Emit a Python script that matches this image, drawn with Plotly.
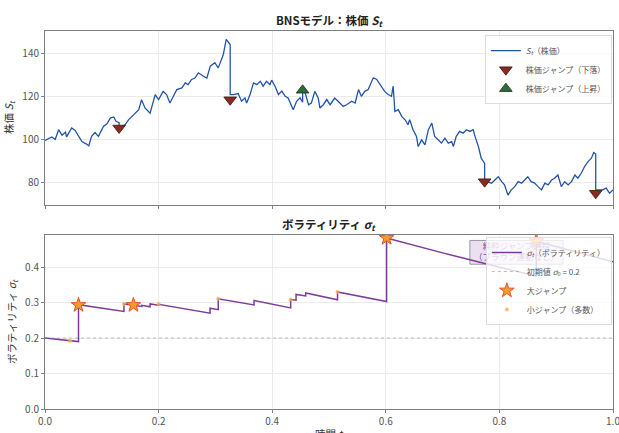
import plotly.graph_objects as go

# ---------------- data ----------------
price_t = [0.000, 0.006, 0.012, 0.018, 0.024, 0.030, 0.036, 0.038, 0.047, 0.053,
           0.059, 0.065, 0.074, 0.077, 0.082, 0.088, 0.094, 0.103, 0.109, 0.115,
           0.121, 0.125, 0.1305, 0.1305, 0.135, 0.141, 0.147, 0.156, 0.165, 0.170,
           0.176, 0.185, 0.194, 0.200, 0.208, 0.214, 0.220, 0.226, 0.232, 0.241,
           0.247, 0.252, 0.258, 0.264, 0.270, 0.279, 0.285, 0.291, 0.299, 0.305,
           0.308, 0.314, 0.319, 0.323, 0.326, 0.326, 0.332, 0.340, 0.346, 0.352,
           0.355, 0.361, 0.367, 0.373, 0.379, 0.384, 0.390, 0.396, 0.399, 0.405,
           0.411, 0.417, 0.423, 0.428, 0.437, 0.443, 0.449, 0.4536, 0.4536, 0.458,
           0.464, 0.469, 0.475, 0.481, 0.484, 0.490, 0.496, 0.502, 0.510, 0.516,
           0.525, 0.531, 0.540, 0.546, 0.552, 0.557, 0.563, 0.569, 0.578, 0.584,
           0.590, 0.598, 0.604, 0.610, 0.613, 0.616, 0.622, 0.628, 0.634, 0.639,
           0.642, 0.648, 0.654, 0.657, 0.663, 0.669, 0.675, 0.681, 0.686, 0.692,
           0.698, 0.704, 0.710, 0.716, 0.719, 0.724, 0.730, 0.736, 0.742, 0.748,
           0.754, 0.757, 0.763, 0.768, 0.774, 0.774, 0.780, 0.786, 0.792, 0.798,
           0.804, 0.809, 0.815, 0.821, 0.827, 0.833, 0.839, 0.845, 0.850, 0.856,
           0.862, 0.868, 0.874, 0.880, 0.886, 0.892, 0.897, 0.903, 0.909, 0.915,
           0.921, 0.927, 0.933, 0.938, 0.944, 0.950, 0.956, 0.962, 0.966, 0.9696,
           0.9696, 0.977, 0.982, 0.988, 0.994, 1.000]
price_S = [99.7, 100.4, 101.3, 100.2, 104.7, 102.1, 103.5, 101.4, 105.5, 104.4,
           101.6, 99.2, 97.9, 97.2, 101.6, 103.4, 101.6, 106.2, 107.4, 110.1,
           110.6, 108.6, 108.0, 105.5, 106.2, 107.0, 109.3, 111.7, 114.0, 118.6,
           114.8, 112.4, 121.0, 118.7, 122.5, 121.0, 117.1, 120.2, 123.3, 124.1,
           126.4, 125.6, 128.0, 128.7, 131.1, 129.5, 128.7, 134.2, 135.8, 133.4,
           135.8, 139.6, 146.6, 145.4, 144.2, 121.0, 121.0, 121.5, 117.9, 119.4,
           117.1, 121.0, 126.4, 125.6, 127.2, 124.9, 127.2, 125.6, 127.7, 124.9,
           121.0, 122.6, 120.2, 119.4, 114.0, 117.9, 119.5, 117.5, 122.5, 121.8,
           116.3, 117.1, 122.5, 119.4, 114.8, 116.3, 118.7, 116.3, 119.4, 117.9,
           115.5, 116.3, 117.9, 117.1, 123.3, 120.2, 122.5, 123.3, 128.8, 128.0,
           125.6, 122.5, 121.0, 120.2, 124.9, 113.2, 114.0, 110.9, 109.3, 107.0,
           109.3, 104.7, 101.6, 96.9, 100.0, 97.7, 104.7, 107.8, 101.6, 100.0,
           98.5, 100.8, 98.5, 99.2, 96.9, 101.6, 103.9, 103.1, 104.7, 103.9,
           104.7, 101.6, 96.9, 91.5, 89.1, 81.0, 80.6, 79.9, 81.4, 82.9,
           80.6, 79.1, 74.4, 76.8, 78.3, 80.6, 79.9, 81.4, 82.9, 80.6,
           79.9, 78.3, 76.8, 79.9, 79.1, 81.4, 82.2, 83.7, 78.3, 80.6,
           79.1, 80.6, 83.7, 82.2, 84.5, 87.6, 89.9, 91.5, 94.1, 93.4,
           76.8, 76.8, 76.8, 77.6, 75.2, 76.8]

drop_t = [0.1305, 0.326, 0.774, 0.9696]
drop_S = [105.5, 118.6, 80.6, 75.2]
rise_t = [0.4536]
rise_S = [123.0]

vol_t = [0.000, 0.059, 0.059, 0.139, 0.139, 0.1557, 0.1645, 0.1704, 0.1704, 0.185,
         0.185, 0.200, 0.200, 0.2906, 0.2906, 0.302, 0.305, 0.305, 0.343, 0.368,
         0.368, 0.4325, 0.4325, 0.442, 0.442, 0.459, 0.459, 0.515, 0.515, 0.6014,
         0.6014, 0.683, 0.695, 0.804, 0.865, 0.865, 1.000]
vol_s = [0.200, 0.190, 0.294, 0.275, 0.296, 0.292, 0.290, 0.289, 0.292, 0.288,
         0.296, 0.2925, 0.295, 0.270, 0.284, 0.281, 0.280, 0.3106, 0.299, 0.2934,
         0.3057, 0.285, 0.3086, 0.3065, 0.3229, 0.3185, 0.327, 0.3077, 0.3297, 0.303,
         0.482, 0.446, 0.442, 0.398, 0.375, 0.4726, 0.415]

big_t = [0.059, 0.1557, 0.6014, 0.865]
big_s = [0.293, 0.293, 0.482, 0.4726]
small_t = [0.0443, 0.139, 0.200, 0.305, 0.4325, 0.515]
small_s = [0.1914, 0.296, 0.296, 0.3106, 0.3086, 0.3297]
sigma0 = 0.2

x_ticks = [0.0, 0.2, 0.4, 0.6, 0.8, 1.0]
y1_ticks = [80, 100, 120, 140]
y2_ticks = [0.0, 0.1, 0.2, 0.3, 0.4]

# ---------------- figure ----------------
FONT = "Noto Sans CJK JP"
BLUE = "#2255A8"
PURPLE = "#7D3C98"

fig = go.Figure()

fig.add_trace(go.Scatter(x=price_t, y=price_S, mode="lines",
                         line=dict(color=BLUE, width=1.3),
                         name="<i>S<sub>t</sub></i>（株価）",
                         xaxis="x", yaxis="y", legend="legend"))
fig.add_trace(go.Scatter(x=drop_t, y=drop_S, mode="markers",
                         marker=dict(symbol="triangle-down", size=11, color="#8B2A20",
                                     line=dict(color="#3a1510", width=0.8)),
                         name="株価ジャンプ（下落）", xaxis="x", yaxis="y", legend="legend"))
fig.add_trace(go.Scatter(x=rise_t, y=rise_S, mode="markers",
                         marker=dict(symbol="triangle-up", size=11, color="#2F6B3A",
                                     line=dict(color="#14301a", width=0.8)),
                         name="株価ジャンプ（上昇）", xaxis="x", yaxis="y", legend="legend"))

fig.add_trace(go.Scatter(x=vol_t, y=vol_s, mode="lines",
                         line=dict(color=PURPLE, width=1.5),
                         name="<i>σ<sub>t</sub></i>（ボラティリティ）",
                         xaxis="x2", yaxis="y2", legend="legend2"))
fig.add_trace(go.Scatter(x=[0, 1], y=[sigma0, sigma0], mode="lines",
                         line=dict(color="rgba(150,150,150,0.6)", width=1, dash="dot"),
                         name="初期値 <i>σ</i><sub>0</sub> = 0.2",
                         xaxis="x2", yaxis="y2", legend="legend2"))
fig.add_trace(go.Scatter(x=big_t, y=big_s, mode="markers",
                         marker=dict(symbol="star", size=11, color="#F39C2A",
                                     line=dict(color="#E8502A", width=1)),
                         name="大ジャンプ", xaxis="x2", yaxis="y2", legend="legend2"))
fig.add_trace(go.Scatter(x=small_t, y=small_s, mode="markers",
                         marker=dict(symbol="circle", size=4, color="rgba(245,176,65,0.75)"),
                         name="小ジャンプ（多数）", xaxis="x2", yaxis="y2", legend="legend2"))

# annotation text as a text trace (kept beneath the legend)
fig.add_trace(go.Scatter(x=[0.83], y=[0.442], mode="text",
                         text=["純粋ジャンプ過程<br>（ブラウン運動なし）"],
                         textfont=dict(family=FONT, size=8.5, color=PURPLE),
                         showlegend=False, hoverinfo="skip",
                         xaxis="x2", yaxis="y2"))

fig.add_shape(type="rect", xref="x2", yref="y2", x0=0.748, x1=0.912, y0=0.408, y1=0.475,
              fillcolor="rgba(232,218,239,0.85)", line=dict(color="#9a9a9a", width=1),
              layer="between")

axis_common = dict(showline=True, linecolor="#808080", linewidth=1, mirror=True,
                   showgrid=True, gridcolor="#ebebeb", gridwidth=0.8,
                   ticks="outside", ticklen=3, tickcolor="#808080",
                   tickfont=dict(family=FONT, size=10, color="#555555"),
                   zeroline=False)

fig.update_layout(
    width=619, height=433,
    margin=dict(l=45, r=6, t=31, b=24, autoexpand=False),
    paper_bgcolor="white", plot_bgcolor="white",
    font=dict(family=FONT, size=10, color="#444444"),
    xaxis=dict(domain=[0, 1], range=[0, 1], anchor="y", tickvals=x_ticks,
               showticklabels=False, **axis_common),
    yaxis=dict(domain=[0.541, 1.0], range=[70, 150.5], anchor="x", tickvals=y1_ticks,
               title=dict(text="株価 <i>S<sub>t</sub></i>", standoff=6,
                          font=dict(family=FONT, size=10.5, color="#333333")),
               **axis_common),
    xaxis2=dict(domain=[0, 1], range=[0, 1], anchor="y2", tickvals=x_ticks,
                tickformat=".1f", automargin=False, ticklabeloverflow="allow",
                **axis_common),
    yaxis2=dict(domain=[0, 0.460], range=[0, 0.49], anchor="x2", tickvals=y2_ticks,
                tickformat=".1f",
                title=dict(text="ボラティリティ <i>σ<sub>t</sub></i>", standoff=6,
                           font=dict(family=FONT, size=10.5, color="#333333")),
                **axis_common),
    legend=dict(x=0.998, y=0.989, xanchor="right", yanchor="top",
                bgcolor="rgba(255,255,255,0.8)", bordercolor="#dddddd", borderwidth=1,
                font=dict(family=FONT, size=8, color="#555555"),
                itemwidth=30, tracegroupgap=0),
    legend2=dict(x=0.998, y=0.455, xanchor="right", yanchor="top",
                 bgcolor="rgba(255,255,255,0.8)", bordercolor="#dddddd", borderwidth=1,
                 font=dict(family=FONT, size=8, color="#555555"),
                 itemwidth=30, tracegroupgap=0),
    annotations=[
        dict(text="<b>BNSモデル：株価 <i>S<sub>t</sub></i></b>", xref="paper", yref="paper",
             x=0.5, y=1.029, xanchor="center", yanchor="middle", showarrow=False,
             font=dict(family=FONT, size=11.5, color="#222222")),
        dict(text="<b>ボラティリティ <i>σ<sub>t</sub></i></b>", xref="paper", yref="paper",
             x=0.5, y=0.489, xanchor="center", yanchor="middle", showarrow=False,
             font=dict(family=FONT, size=11.5, color="#222222")),
        dict(text="時間 <i>t</i>", xref="paper", yref="paper",
             x=0.5, y=-0.040, xanchor="center", yanchor="top", showarrow=False,
             font=dict(family=FONT, size=10.5, color="#333333")),
    ],
)

fig.write_html("out.html")
